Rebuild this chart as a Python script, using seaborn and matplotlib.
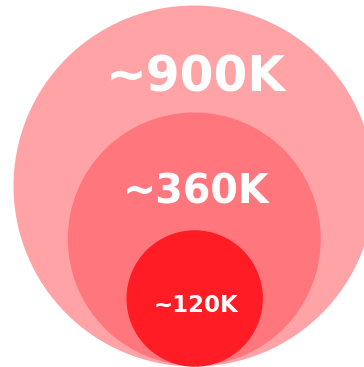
import matplotlib
matplotlib.use("Agg")
import matplotlib.pyplot as plt
import seaborn as sns
import pandas as pd

# data
labels = ["~900K", "~360K", "~120K"]
values = [900000, 360000, 120000]
colors = ["#FFA3A7", "#FF767C", "#FF1C25"]

# layout (pixels in a 364x367 canvas)
centers_x = [194, 194.3, 194.7]
centers_y = [186, 239, 298.5]
radii = [180.5, 126.5, 68.2]
label_x = [196, 196, 195.5]
label_base = [92, 204, 312]
font_sizes = [35, 28.5, 16.5]

sns.set_theme(style="white")
plt.rcParams['font.family'] = ['DejaVu Sans']

DPI = 100
fig = plt.figure(figsize=(3.64, 3.67), dpi=DPI)
ax = fig.add_axes([0, 0, 1, 1])

df = pd.DataFrame({"x": centers_x, "y": centers_y, "value": values, "label": labels})
# marker area in pt^2 such that diameter equals 2*r pixels
size_map = {v: (2 * r * 72 / DPI) ** 2 for v, r in zip(values, radii)}
color_map = {l: c for l, c in zip(labels, colors)}

sns.scatterplot(data=df, x="x", y="y", size="value", sizes=size_map,
                hue="label", palette=color_map, hue_order=labels,
                linewidth=0, legend=False, ax=ax, alpha=1, clip_on=True)

for lab, x, y, fs in zip(labels, label_x, label_base, font_sizes):
    ax.text(x, y, lab, ha="center", va="baseline", color="white",
            fontsize=fs, fontweight="bold")

ax.set_xlim(0, 364)
ax.set_ylim(367, 0)
ax.set_axis_off()
fig.savefig("out.png", dpi=DPI, facecolor="white")
